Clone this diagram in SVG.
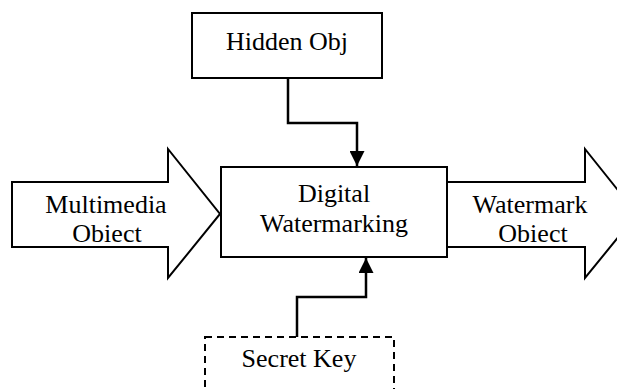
<svg xmlns="http://www.w3.org/2000/svg" width="617" height="389" viewBox="0 0 617 389">
  <style>
    .box { fill: #ffffff; stroke: #000000; stroke-width: 2; }
    .dashed { stroke-dasharray: 7 5; }
    .wire { fill: none; stroke: #000000; stroke-width: 2.5; }
    text { font-family: 'Liberation Serif', 'DejaVu Serif', serif; font-size: 26px; fill: #000000; text-anchor: middle; }
  </style>
  <defs>
    <marker id="head" viewBox="0 0 10 10" refX="10" refY="5" markerWidth="6" markerHeight="6" markerUnits="strokeWidth" orient="auto">
      <path d="M0,0 L10,5 L0,10 Z" fill="#000000"/>
    </marker>
  </defs>

  <rect width="617" height="389" fill="#ffffff"/>

  <!-- input block arrow -->
  <g id="multimedia-object">
    <polygon class="box" points="12,182 168,182 168,149 220,214 168,278 168,247 12,247"/>
    <text x="106" y="213">Multimedia</text>
    <text x="107" y="242">Obiect</text>
  </g>

  <!-- output block arrow -->
  <g id="watermark-object">
    <polygon class="box" points="447,182 585,182 585,149 637,214 585,278 585,247 447,247"/>
    <text x="530" y="213">Watermark</text>
    <text x="533" y="242">Obiect</text>
  </g>

  <g id="hidden-obj">
    <rect class="box" x="192" y="13" width="190" height="65"/>
    <text x="287" y="50">Hidden Obj</text>
  </g>

  <g id="digital-watermarking">
    <rect class="box" x="221" y="167" width="226" height="90"/>
    <text x="334" y="202">Digital</text>
    <text x="334" y="232">Watermarking</text>
  </g>

  <g id="secret-key">
    <rect class="box dashed" x="205" y="337" width="189" height="70"/>
    <text x="299" y="367">Secret Key</text>
  </g>

  <g id="connectors">
    <path class="wire" d="M288,78 L288,123 L357,123 L357,166" marker-end="url(#head)"/>
    <path class="wire" d="M297,337 L297,297 L366,297 L366,258" marker-end="url(#head)"/>
  </g>
</svg>
